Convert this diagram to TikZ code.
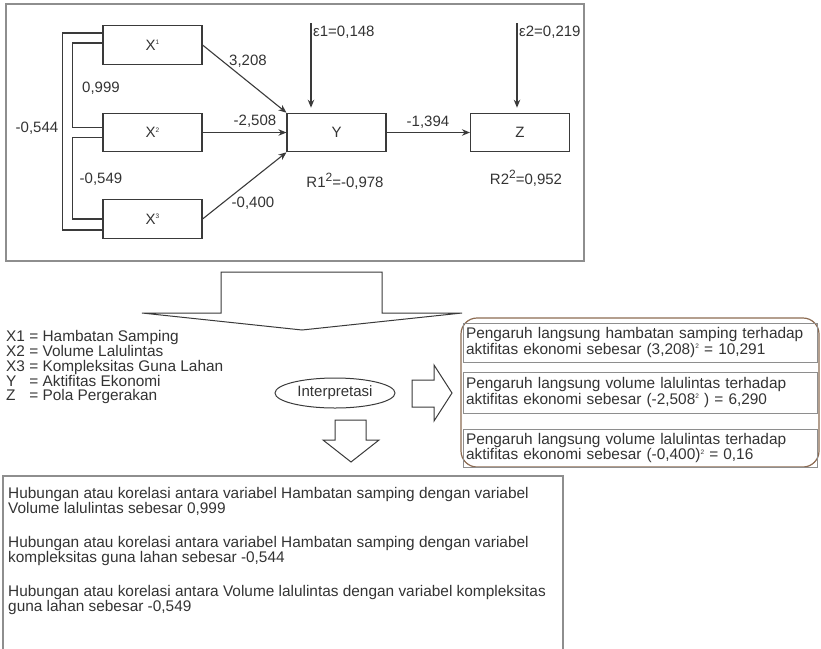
\documentclass[tikz,border=0pt]{standalone}
\usepackage{fontspec}
\setmainfont{Liberation Sans}
\usetikzlibrary{positioning, arrows.meta, shapes.geometric, calc}

\definecolor{linec}{HTML}{3A3A3A}
\definecolor{framec}{HTML}{8E8E8E}
\definecolor{brownc}{HTML}{8C6B52}
\definecolor{textc}{HTML}{333333}
\newcommand{\tinysup}[1]{\raisebox{5.5pt}{\fontsize{6.5}{6.5}\selectfont #1}}
\newcommand{\bigsup}[1]{\raisebox{6pt}{\fontsize{12}{12}\selectfont #1}}

\begin{document}
\begin{tikzpicture}[
    x=1pt, y=-1pt,
    >={Stealth[length=8pt, width=6.5pt]},
    text=textc,
    font=\fontsize{15}{14.3}\selectfont,
    var/.style={draw=linec, line width=1.1pt, minimum width=99pt, minimum height=38.5pt, inner sep=0pt},
    link/.style={draw=linec, line width=1.1pt},
    blockarr/.style={draw=linec, line width=1pt, fill=white},
    effbox/.style={draw=framec, line width=1pt, minimum width=354pt, text width=348pt, align=left, inner xsep=3pt, font=\fontsize{15.4}{13.8}\selectfont}
]
\useasboundingbox (0,0) rectangle (821,648);

    % --- Bingkai model jalur ---
    \draw[framec, line width=1.3pt] (6,4) rectangle (584,261);

    % --- Variabel ---
    \node[var] (x1) at (152.5,45) {X\tinysup{1}};
    \node[var] (x2) at (152.5,132.5) {X\tinysup{2}};
    \node[var] (x3) at (152.5,219) {X\tinysup{3}};
    \node[var] (y) at (336.5,132.5) {Y};
    \node[var] (z) at (520,132.5) {Z};

    % --- Jalur langsung ---
    \draw[link,->] (x1.east) -- (y.north west);   % X1 -> Y
    \draw[link,->] (x2) -- (y);                   % X2 -> Y
    \draw[link,->] (x3.east) -- (y.south west);   % X3 -> Y
    \draw[link,->] (y) -- (z);                    % Y -> Z

    % --- Korelasi antar X ---
    \draw[link] ($(x1.west)+(0,-12)$) -- ++(-40,0) |- ($(x3.west)+(0,11)$);  % X1 - X3
    \draw[link] ($(x1.west)+(0,-2)$) -- ++(-30,0) |- ($(x2.west)+(0,-5)$);   % X1 - X2
    \draw[link] ($(x2.west)+(0,5)$) -- ++(-30,0) |- (x3.west);               % X2 - X3

    % --- Error ---
    \coordinate (e1) at (311,23);
    \coordinate (e2) at (517,23);
    \draw[link,->,shorten >=5pt] (e1) -- (e1 |- y.north);
    \draw[link,->,shorten >=5pt] (e2) -- (e2 |- z.north);
    \node[anchor=west, inner sep=1pt] (e1lab) at (312,32) {ε1=0,148};
    \node[anchor=west, inner sep=1pt] (e2lab) at (518,32) {ε2=0,219};

    % --- Koefisien ---
    \node (r999) at (101,88) {0,999};
    \node (r544) at (37,128) {-0,544};
    \node (r549) at (101,179) {-0,549};
    \node (p1) at (248,61) {3,208};
    \node (p2) at (255,121) {-2,508};
    \node (p3) at (253,203) {-0,400};
    \node (p4) at (428,122) {-1,394};
    \node (r1) at (345,181) {R1\bigsup{2}=-0,978};
    \node (r2) at (526,178) {R2\bigsup{2}=0,952};

    % --- Panah besar ke bawah ---
    \draw[blockarr] (221,272) -- (382,272) -- (382,313) -- (462,313) -- (302,330) -- (142,313) -- (221,313) -- cycle;

    % --- Keterangan ---
    \node[anchor=north west, align=left, inner sep=0pt, font=\fontsize{15.4}{14.3}\selectfont] (legend) at (6,330) {%
        X1 = Hambatan Samping\\
        X2 = Volume Lalulintas\\
        X3 = Kompleksitas Guna Lahan\\
        \makebox[1.22em][l]{Y} = Aktifitas Ekonomi\\
        \makebox[1.22em][l]{Z} = Pola Pergerakan};

    % --- Interpretasi ---
    \node[ellipse, draw=linec, line width=1pt, minimum width=120pt, minimum height=30pt, inner sep=0pt] (interp) at (335,393) {Interpretasi};
    \draw[blockarr] (412,380) -- (434,380) -- (434,365) -- (452,393) -- (434,421) -- (434,407) -- (412,407) -- cycle;
    \draw[blockarr] (335,420) -- (366,420) -- (366,440) -- (379,440) -- (351,462) -- (323,440) -- (335,440) -- cycle;

    % --- Pengaruh langsung ---
    \node[draw=brownc, line width=1.2pt, rounded corners=16pt, minimum width=358pt, minimum height=149pt] (effect) at (640,392.5) {};
    \node[effbox, minimum height=39pt] (eff1) at (640,342.5) {Pengaruh langsung hambatan samping terhadap\\aktifitas ekonomi sebesar (3,208)\tinysup{2} = 10,291};
    \node[effbox, minimum height=41pt] (eff2) at (640,392.5) {Pengaruh langsung volume lalulintas terhadap\\aktifitas ekonomi sebesar (-2,508\tinysup{2} ) = 6,290};
    \node[effbox, minimum height=38pt] (eff3) at (640,448) {Pengaruh langsung volume lalulintas terhadap\\aktifitas ekonomi sebesar (-0,400)\tinysup{2} = 0,16};

    % --- Hubungan antar variabel ---
    \draw[framec, line width=1.3pt] (3,650) |- (563,476) -- (563,650);
    \node[anchor=north west, align=left, inner sep=0pt, font=\fontsize{15.4}{15.6}\selectfont] (relasi) at (8,487) {%
        Hubungan atau korelasi antara variabel Hambatan samping dengan variabel\\
        Volume lalulintas sebesar 0,999\\[17.8pt]
        Hubungan atau korelasi antara variabel Hambatan samping dengan variabel\\
        kompleksitas guna lahan sebesar -0,544\\[17.8pt]
        Hubungan atau korelasi antara Volume lalulintas dengan variabel kompleksitas\\
        guna lahan sebesar -0,549};

\end{tikzpicture}
\end{document}
